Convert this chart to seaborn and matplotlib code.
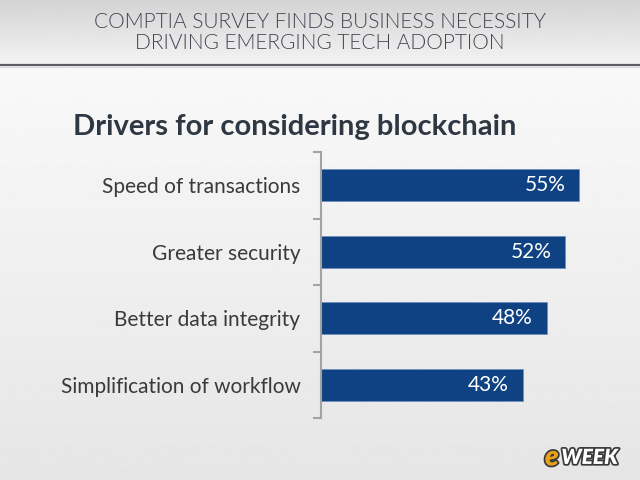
import numpy as np
import pandas as pd
import seaborn as sns
import matplotlib.pyplot as plt
from matplotlib import patheffects
from matplotlib.ticker import FixedLocator

sns.set_theme(style="white")
plt.rcParams["font.family"] = ["Lato", "DejaVu Sans"]

# data
drivers = ["Speed of transactions", "Greater security",
           "Better data integrity", "Simplification of workflow"]
shares = [55, 52, 48, 43]
header = "COMPTIA SURVEY FINDS BUSINESS NECESSITY\nDRIVING EMERGING TECH ADOPTION"
chart_title = "Drivers for considering blockchain"

df = pd.DataFrame({"driver": drivers, "share": shares})

fig = plt.figure(figsize=(6.4, 4.8), dpi=100)

# background: header band + light gradient body
bg = fig.add_axes([0, 0, 1, 1], zorder=-1)
bg.set_xlim(0, 1)
bg.set_ylim(0, 1)
bg.axis("off")
body = np.linspace(0.90, 0.975, 256).reshape(-1, 1)
bg.imshow(body, extent=[0, 1, 0, 0.862], cmap="gray", vmin=0, vmax=1,
          aspect="auto", origin="lower")
head = np.linspace(0.95, 0.83, 64).reshape(-1, 1)
bg.imshow(head, extent=[0, 1, 0.866, 1], cmap="gray", vmin=0, vmax=1,
          aspect="auto", origin="lower")
bg.axhline(0.865, color="#5e5a62", lw=1.6)
bg.axhline(0.860, color="#d8d8d8", lw=0.8)
bg.text(0.5, 0.932, header, ha="center", va="center", fontsize=15,
        color="#4a4152", fontweight=300, linespacing=1.1)
bg.text(0.46, 0.735, chart_title, ha="center", va="center", fontsize=21,
        fontweight="bold", color="#2e3843")

# eWEEK mark
shadow = [patheffects.withStroke(linewidth=2.5, foreground="#3a3a3a")]
bg.text(0.873, 0.047, "e", ha="right", va="center", fontsize=20, style="italic",
        fontweight="heavy", color="#e8a21c", path_effects=shadow)
bg.text(0.877, 0.047, "WEEK", ha="left", va="center", fontsize=15, style="italic",
        fontweight="heavy", color="white", path_effects=shadow)

# bar chart
ax = fig.add_axes([0.502, 0.129, 0.44, 0.554])
ax.set_facecolor("none")
sns.barplot(data=df, x="share", y="driver", color="#0f4283", width=0.48,
            saturation=1, edgecolor="#6f90bd", linewidth=0.6, ax=ax)
ax.set_xlim(0, 60)
ax.set_ylim(3.5, -0.5)
ax.set_xlabel("")
ax.set_ylabel("")
ax.set_xticks([])
for s in ["top", "right", "bottom"]:
    ax.spines[s].set_visible(False)
ax.spines["left"].set_color("#a3a3a3")
ax.spines["left"].set_linewidth(1.5)
ax.yaxis.set_minor_locator(FixedLocator([-0.5, 0.5, 1.5, 2.5, 3.5]))
ax.tick_params(axis="y", which="major", length=0, pad=15, labelsize=15,
               labelcolor="#3a3a3a")
ax.tick_params(axis="y", which="minor", left=True, length=6, width=1.5,
               color="#a3a3a3", direction="out")

for i, v in enumerate(shares):
    ax.text(v - 3.0, i, f"{v}%", ha="right", va="center", color="white",
            fontsize=15)

fig.savefig("out.png", dpi=100)
